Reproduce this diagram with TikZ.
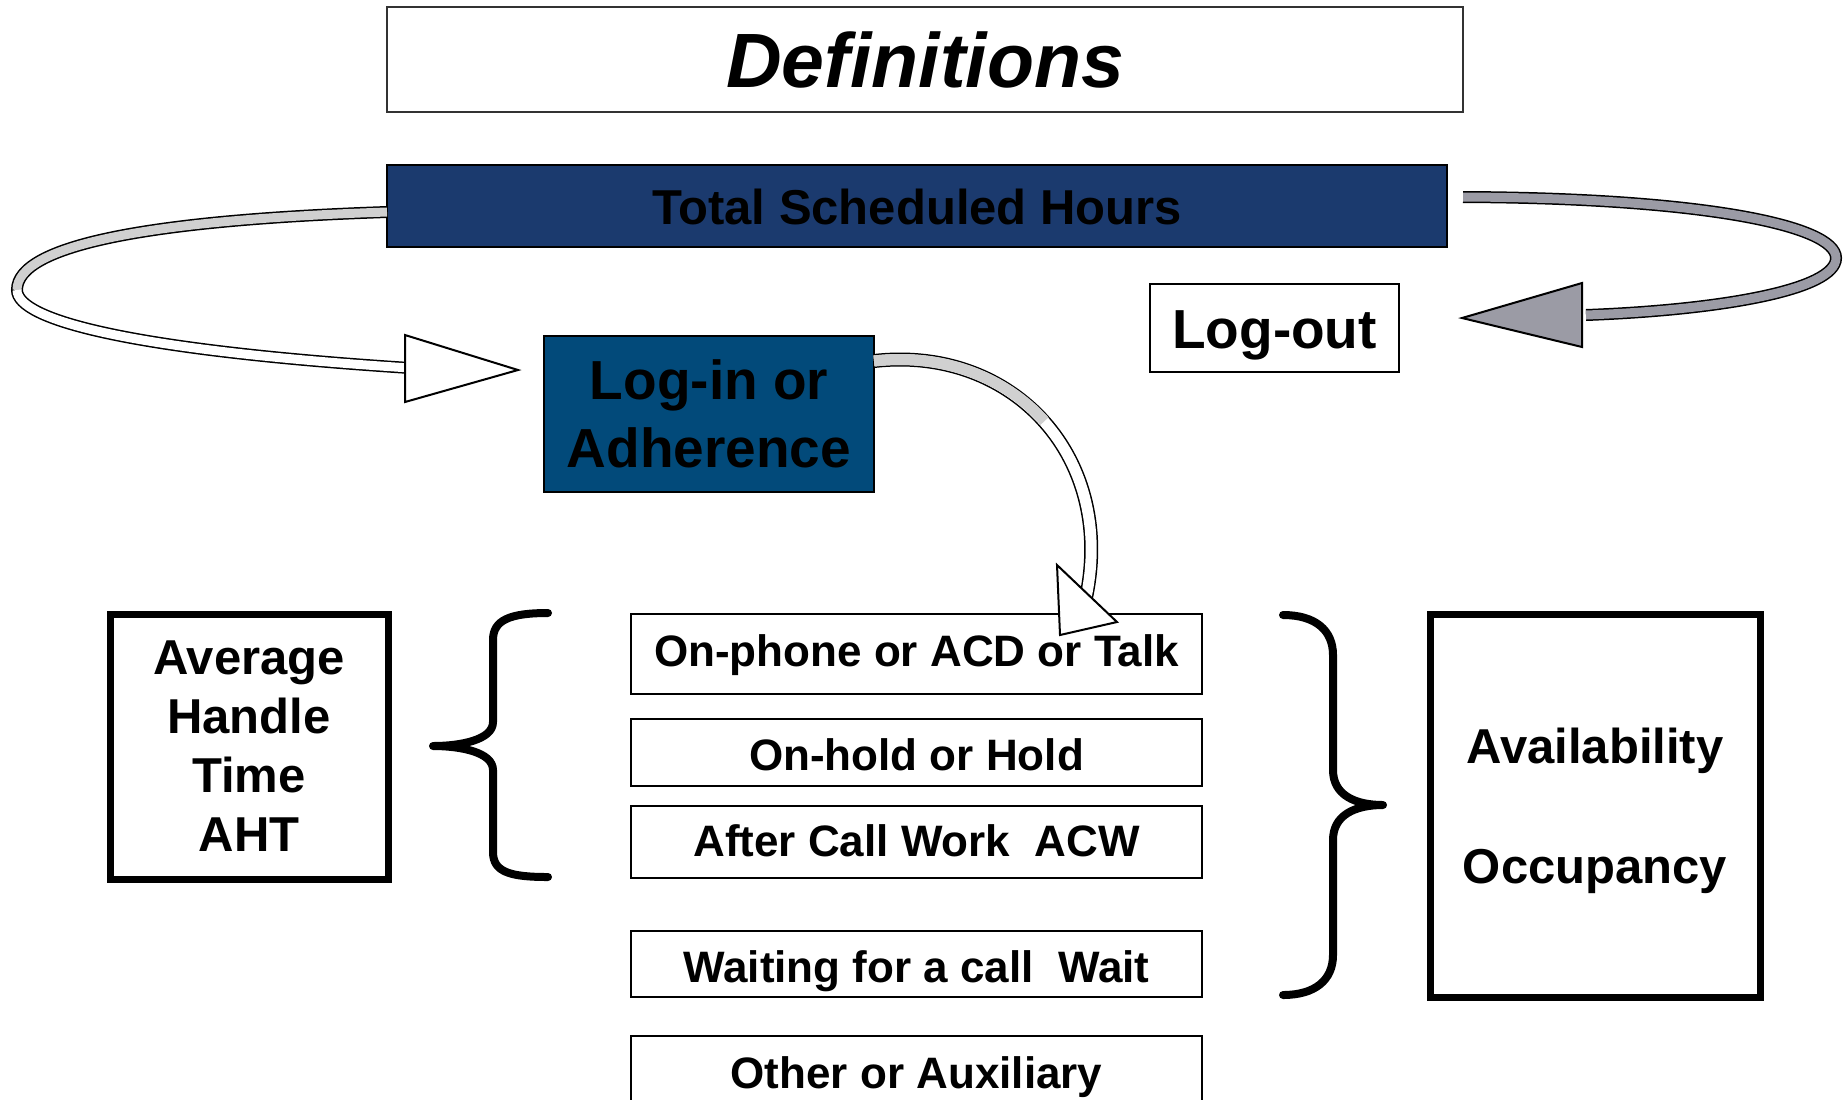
\documentclass[tikz,border=0pt]{standalone}
\usepackage{fontspec}
\setmainfont{Liberation Sans}
\definecolor{tshblue}{RGB}{27,58,110}
\definecolor{loginblue}{RGB}{2,74,122}
\definecolor{ltgrey}{RGB}{208,208,208}
\definecolor{midgrey}{RGB}{155,155,165}
\begin{document}
\begin{tikzpicture}[x=0.5pt,y=-0.5pt,
  basebox/.style={draw=black, line width=1pt, inner sep=0pt, align=center},
  smallbox/.style={basebox, fill=white, minimum width=285.5pt,
    font=\bfseries\fontsize{22}{26}\selectfont, text height=16pt, text depth=5pt},
  thickbox/.style={basebox, line width=3.5pt},
  brace/.style={line width=4pt, line cap=round, line join=round},
  shaftout/.style={line width=6pt, black},
  headstyle/.style={draw=black, line width=1pt, line join=miter}
]
\useasboundingbox (0,0) rectangle (1845,1099);
\clip (0,0) rectangle (1845,1099);

% boxes
\node[basebox, draw=black!80, fill=white, minimum width=538pt, minimum height=52.5pt,
  font=\bfseries\itshape\fontsize{38.5}{46}\selectfont, text height=28pt, text depth=0pt] (title) at (925,59.5) {Definitions};
\node[basebox, fill=tshblue, minimum width=530pt, minimum height=41pt,
  font=\bfseries\fontsize{24.5}{29}\selectfont, text height=18pt, text depth=0pt] (tsh) at (917,206) {Total Scheduled Hours};
\node[basebox, fill=loginblue, minimum width=165pt, minimum height=78pt,
  font=\bfseries\fontsize{27.5}{34}\selectfont] (login) at (709,414) {Log-in or\\Adherence};
\node[basebox, fill=white, minimum width=124.5pt, minimum height=44pt,
  font=\bfseries\fontsize{27.5}{33}\selectfont, text height=20pt, text depth=0pt] (logout) at (1274.5,328) {Log-out};
\node[thickbox, minimum width=139pt, minimum height=132.5pt,
  font=\bfseries\fontsize{24.5}{29.5}\selectfont] (aht) at (249,746.5) {Average\\Handle\\Time\\AHT};
\node[thickbox, minimum width=165pt, minimum height=191.5pt, text depth=0pt,
  font=\bfseries\fontsize{24.5}{60}\selectfont] (avail) at (1595,805.5) {Availability\\Occupancy};

\node[smallbox, minimum height=40pt, text height=17pt] (talk) at (916.5,654) {On-phone or ACD or Talk};
\node[smallbox, minimum height=33.5pt, text height=23pt] (hold) at (916.5,752.5) {On-hold or Hold};
\node[smallbox, minimum height=36pt, text height=19.5pt] (acw) at (916.5,842) {After Call Work\ \ ACW};
\node[smallbox, minimum height=33pt, text height=23pt] (wait) at (916.5,964) {Waiting for a call\ \ Wait};
\node[smallbox, minimum height=40pt, text height=17pt] (other) at (916.5,1076) {Other or Auxiliary};

% braces
\draw[brace] (548,613) .. controls (510,613) and (493,620) .. (493,640) -- (493,722)
  .. controls (493,740) and (460,746) .. (433,746)
  .. controls (460,746) and (493,752) .. (493,770) -- (493,852)
  .. controls (493,872) and (510,877) .. (548,877);
\draw[brace] (1283,615) .. controls (1315,615) and (1333,630) .. (1333,655) -- (1333,770)
  .. controls (1333,795) and (1355,805) .. (1383,805)
  .. controls (1355,805) and (1333,815) .. (1333,840) -- (1333,955)
  .. controls (1333,980) and (1315,995) .. (1283,995);

% left ribbon arrow: Total Scheduled Hours -> Log-in
\coordinate (l0) at (387,212);
\coordinate (l1) at (17,290);
\coordinate (l2) at (410,368);
\draw[shaftout] (l0) .. controls (150,220) and (17,245) .. (l1)
  .. controls (17,320) and (130,350) .. (l2);
\draw[line width=4.5pt, ltgrey] (l0) .. controls (150,220) and (17,245) .. (l1);
\draw[line width=4.5pt, white] (l1) .. controls (17,320) and (130,350) .. (l2);
\draw[headstyle, fill=white] (405,335) -- (518,370) -- (405,402) -- cycle;

% right ribbon arrow: Total Scheduled Hours -> Log-out
\coordinate (r0) at (1463,197);
\coordinate (r1) at (1836,258);
\coordinate (r2) at (1586,315);
\draw[shaftout] (r0) .. controls (1700,198) and (1836,225) .. (r1)
  .. controls (1836,290) and (1720,310) .. (r2);
\draw[line width=4.5pt, midgrey] (r0) .. controls (1700,198) and (1836,225) .. (r1)
  .. controls (1836,290) and (1720,310) .. (r2);
\draw[headstyle, fill=midgrey] (1582,283) -- (1462,318) -- (1582,347) -- cycle;

% middle ribbon arrow: Log-in -> On-phone
\coordinate (m0) at (874,361);
\coordinate (m1) at (1085,602);
\draw[line width=7pt] (m0) .. controls (1015,345) and (1118,460) .. (m1);
\draw[line width=5.5pt, white] (m0) .. controls (1015,345) and (1118,460) .. (m1);
\draw[line width=5.5pt, ltgrey] (m0) .. controls (944.5,353) and (1005.25,377.75) .. (1044.5,421.1);
\draw[headstyle, fill=white] (1057,565) -- (1060,635) -- (1117,622) -- cycle;
\end{tikzpicture}
\end{document}
